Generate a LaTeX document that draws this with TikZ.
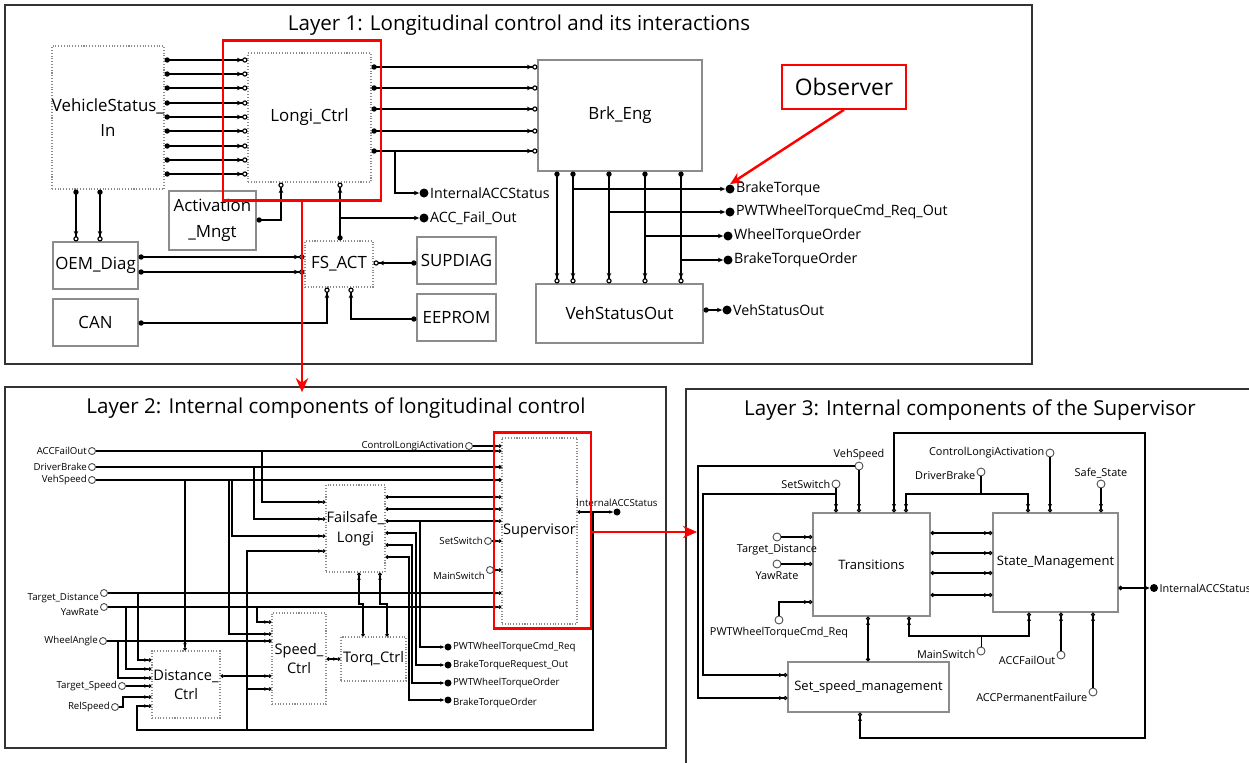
\documentclass[tikz,border=0pt]{standalone}
\usepackage{fontspec}
\setmainfont{Open Sans}
\usetikzlibrary{arrows.meta,calc}
\newlength\px
\setlength\px{0.02cm}
\tikzset{
  blk/.style 2 args={minimum width=#1\px, minimum height=#2\px, inner sep=0pt, align=center},
  solidblk/.style={draw=black!45, line width=0.6pt},
  dotblk/.style={draw=black!45, densely dotted, line width=0.6pt},
  frame/.style={draw=black!80, line width=0.9pt},
  redframe/.style={draw=red, line width=1.7pt},
  redarrow/.style={draw=red, line width=1.6pt, -{Stealth[length=8pt,width=7pt]}},
  ttl/.style={font=\fontsize{11.7}{14}\selectfont, inner sep=0pt},
  l1font/.style={font=\fontsize{9.6}{14.5}\selectfont},
  l2font/.style={font=\fontsize{8.3}{11}\selectfont},
  l3font/.style={font=\fontsize{7.4}{9}\selectfont},
  l1lbl/.style={font=\fontsize{8.1}{9}\selectfont, inner sep=0.5pt},
  l2lbl/.style={font=\fontsize{5.5}{6.5}\selectfont, inner sep=0.5pt},
  l3lbl/.style={font=\fontsize{6.2}{7.5}\selectfont, inner sep=0.5pt},
  outA/.style={circle, fill, inner sep=0pt, minimum size=9\px},
  outS/.style={circle, fill, inner sep=0pt, minimum size=7\px},
  outT/.style={circle, fill, inner sep=0pt, minimum size=8\px},
  inS/.style={circle, draw=black!70, fill=white, line width=0.5pt, inner sep=0pt, minimum size=7\px},
  inT/.style={circle, draw=black!70, fill=white, line width=0.5pt, inner sep=0pt, minimum size=8\px},
  % layer 1 connectors
  sigA/.style={line width=0.65pt, {Circle[length=3pt]}-{Stealth[length=3pt,width=2.6pt] Circle[open,length=3pt]}},
  sigAa/.style={line width=0.65pt, -{Stealth[length=3pt,width=2.6pt]}},
  sigAd/.style={line width=0.65pt, {Circle[length=3pt]}-{Stealth[length=3pt,width=2.6pt]}},
  % layer 2 connectors
  sigS/.style={line width=0.6pt, {Circle[length=2pt]}-{Stealth[length=2.2pt,width=2pt] Circle[open,length=2pt]}},
  sigSo/.style={line width=0.6pt, -{Stealth[length=2.2pt,width=2pt] Circle[open,length=2pt]}},
  sigSa/.style={line width=0.6pt, -{Stealth[length=2.2pt,width=2pt]}},
  sigSd/.style={line width=0.6pt, {Circle[length=2pt]}-{Stealth[length=2.2pt,width=2pt]}},
  % layer 3 connectors
  sigT/.style={line width=0.65pt, {Circle[length=2.4pt]}-{Stealth[length=2.6pt,width=2.3pt] Circle[open,length=2.3pt]}},
  sigTo/.style={line width=0.65pt, -{Stealth[length=2.6pt,width=2.3pt] Circle[open,length=2.3pt]}},
  sigTd/.style={line width=0.65pt, {Circle[length=2.4pt]}-{Stealth[length=2.6pt,width=2.3pt]}}
}
\begin{document}
\begin{tikzpicture}[x=0.02cm, y=-0.02cm]
\clip (0,0) rectangle (1249,762);
\fill[white] (0,0) rectangle (1249,762);

% ---------- Layer 1 ----------
\node[frame, blk={1027}{359}] (L1) at (518.5,184.5) {};
\node[ttl] (t1) at (519,25) {Layer 1: Longitudinal control and its interactions};

\node[dotblk, blk={110}{143}, l1font] (vsi) at (108,117.5) {VehicleStatus\_\\In};
\node[dotblk, blk={123}{129}, l1font] (lc) at (309.5,117.5) {Longi\_Ctrl};
\node[solidblk, blk={164}{111}, l1font] (brk) at (620,115.5) {Brk\_Eng};
\node[solidblk, blk={87}{59}, l1font] (act) at (212.5,220.5) {Activation\\\_Mngt};
\node[dotblk, blk={68}{46}, l1font] (fs) at (339,264) {FS\_ACT};
\node[solidblk, blk={85}{47}, l1font] (oem) at (95.5,265.5) {OEM\_Diag};
\node[solidblk, blk={85}{47}, l1font] (can) at (95.5,322.5) {CAN};
\node[solidblk, blk={79}{47}, l1font] (supd) at (456.5,260.5) {SUPDIAG};
\node[solidblk, blk={79}{47}, l1font] (eep) at (456.5,317.5) {EEPROM};
\node[solidblk, blk={167}{59}, l1font] (vso) at (619.5,313.5) {VehStatusOut};
\node[draw=red, line width=0.9pt, blk={124}{44}, font=\fontsize{13}{15}\selectfont] (obs) at (844,87) {Observer};

\node[outA, label={[l1lbl]right:InternalACCStatus}] (ias) at (424,193) {};
\node[outA, label={[l1lbl]right:ACC\_Fail\_Out}] (afo) at (424,218) {};
\node[outA, label={[l1lbl]right:BrakeTorque}] (bt) at (730,189) {};
\node[outA, label={[l1lbl]right:PWTWheelTorqueCmd\_Req\_Out}] (pwt) at (730,212) {};
\node[outA, label={[l1lbl]right:WheelTorqueOrder}] (wto) at (728,236) {};
\node[outA, label={[l1lbl]right:BrakeTorqueOrder}] (bto) at (728,260) {};
\node[outA, label={[l1lbl]right:VehStatusOut}] (vsout) at (727,310) {};

\foreach \y in {60,74,88,103,117,131,146,160,174}
  \draw[sigA] (vsi.east |- 0,\y) -- (lc.west |- 0,\y);
\foreach \y in {67,88,109,131,151}
  \draw[sigA] (lc.east |- 0,\y) -- (brk.west |- 0,\y);
\coordinate (j1) at (395,151);
\draw[sigAa] (j1) |- (ias);
\draw[sigA] (act.east |- 0,220) -| (lc.south -| 281,0);
\draw[sigA] (fs.north -| 340,0) -- (lc.south -| 340,0);
\coordinate (j2) at (340,218);
\draw[sigAa] (j2) -- (afo);
\foreach \x in {76,100}
  \draw[sigA] (vsi.south -| \x,0) -- (oem.north -| \x,0);
\foreach \y in {257,272}
  \draw[sigA] (oem.east |- 0,\y) -- (fs.west |- 0,\y);
\draw[sigA] (can.east |- 0,323) -| (fs.south -| 327,0);
\draw[sigA] (supd.west |- 0,263) -- (fs.east |- 0,263);
\draw[sigA] (eep.west |- 0,319) -| (fs.south -| 351,0);
\foreach \x in {557,573,609,645,681}
  \draw[sigA] (brk.south -| \x,0) -- (vso.north -| \x,0);
\draw[sigAa] (brk.south -| 573,0) |- (bt);
\draw[sigAa] (brk.south -| 609,0) |- (pwt);
\draw[sigAa] (brk.south -| 645,0) |- (wto);
\draw[sigAa] (brk.south -| 681,0) |- (bto);
\draw[sigAd] (vso.east |- vsout) -- (vsout);
\draw[red, line width=1.4pt, -{Stealth[length=7pt,width=6pt]}] (obs.south) -- (bt.north);
\node[redframe, blk={158}{160}] (rb1) at (302,120) {};

% ---------- Layer 2 ----------
\node[frame, blk={661}{361}] (L2) at (335.5,567.5) {};
\node[ttl] (t2) at (336,408) {Layer 2: Internal components of longitudinal control};
\draw[redarrow, shorten >=-6\px] (rb1.south) -- (rb1.south |- L2.north);

\node[dotblk, blk={75}{186}, l2font] (sv) at (539.5,531) {Supervisor};
\node[dotblk, blk={59}{87}, l2font] (fsl) at (355.5,528.5) {Failsafe\_\\Longi};
\node[dotblk, blk={54}{91}, l2font] (spd) at (299,658.5) {Speed\_\\Ctrl};
\node[dotblk, blk={65}{44}, l2font] (trq) at (373.5,659) {Torq\_Ctrl};
\node[dotblk, blk={68}{67}, l2font] (dst) at (186,684.5) {Distance\_\\Ctrl};

\node[inS, label={[l2lbl]left:ACCFailOut}] (i_afo) at (92,451) {};
\node[inS, label={[l2lbl]left:DriverBrake}] (i_db) at (92,467) {};
\node[inS, label={[l2lbl]left:VehSpeed}] (i_vs) at (92,480) {};
\node[inS, label={[l2lbl, yshift=-5\px]left:Target\_Distance}] (i_td) at (104,593) {};
\node[inS, label={[l2lbl, yshift=-5\px]left:YawRate}] (i_yr) at (104,607) {};
\node[inS, label={[l2lbl]left:WheelAngle}] (i_wa) at (103,641) {};
\node[inS, label={[l2lbl]left:Target\_Speed}] (i_ts) at (122,686) {};
\node[inS, label={[l2lbl]left:RelSpeed}] (i_rs) at (115,707) {};
\node[inS, label={[l2lbl]left:ControlLongiActivation}] (i_cla) at (469,446) {};
\node[inS, label={[l2lbl]left:SetSwitch}] (i_ss) at (488,541) {};
\node[inS, label={[l2lbl, yshift=-6\px]left:MainSwitch}] (i_ms) at (490,570) {};

\node[outS, label={[l2lbl]above:InternalACCStatus}] (o_ias) at (617,512) {};
\node[outS, label={[l2lbl]right:PWTWheelTorqueCmd\_Req}] (o_pwtc) at (448,647) {};
\node[outS, label={[l2lbl]right:BrakeTorqueRequest\_Out}] (o_btr) at (448,665) {};
\node[outS, label={[l2lbl]right:PWTWheelTorqueOrder}] (o_pwto) at (448,683) {};
\node[outS, label={[l2lbl, yshift=-3\px]right:BrakeTorqueOrder}] (o_bto) at (448,700) {};

\draw[sigSo] (i_cla) -- (sv.west |- i_cla);
\draw[sigSo] (i_afo) -- (sv.west |- i_afo);
\draw[sigSo, line width=0.9pt] (i_db) -- (sv.west |- i_db);
\draw[sigSo, line width=0.9pt] (i_vs) -- (sv.west |- i_vs);
\draw[sigSo] (i_afo -| 262,0) |- (fsl.west |- 0,502);
\draw[sigSo] (i_db -| 254,0) |- (fsl.west |- 0,519);
\draw[sigSo] (i_vs -| 185,0) -- (dst.north -| 185,0);
\draw[sigSo] (i_vs -| 232,0) |- (fsl.west |- 0,536);
\draw[sigSo] (i_vs -| 229,0) |- (spd.west |- 0,634);
\foreach \y in {497,509,521}
  \draw[sigS] (fsl.east |- 0,\y) -- (sv.west |- 0,\y);
\draw[sigSa] (fsl.east |- 0,521) -| (o_pwtc -| 420,0) -- (o_pwtc);
\draw[sigSd] (fsl.east |- 0,533) -| (o_btr -| 416,0) -- (o_btr);
\draw[sigSd] (fsl.east |- 0,545) -| (o_pwto -| 412,0) -- (o_pwto);
\draw[sigSd] (fsl.east |- 0,557) -| (o_bto -| 409,0) -- (o_bto);
\draw[sigSd] (sv.east |- o_ias) -- (o_ias);
\coordinate (fbtop) at (o_ias -| 593,0);
\coordinate (fbj) at (247,730);
\draw[sigSo] (fbtop) |- (137,730) |- (dst.west |- 0,706);
\draw[sigSo] (fbj) |- (fsl.west |- 0,551);
\draw[sigSo] (fbj) |- (spd.west |- 0,689);
\draw[sigSo] (i_td) -- (sv.west |- i_td);
\draw[sigSo] (i_td -| 138,0) |- (dst.west |- 0,660);
\draw[sigSo] (i_yr) -- (sv.west |- i_yr);
\draw[sigSo] (i_yr -| 126,0) |- (dst.west |- 0,669);
\draw[sigSo] (i_yr -| 257,0) |- (spd.west |- 0,622);
\draw[sigSo, line width=0.9pt] (i_wa) -- (spd.west |- i_wa);
\draw[sigSo] (i_wa -| 118,0) |- (dst.west |- 0,678);
\draw[sigSo] (i_ts) -- (dst.west |- i_ts);
\draw[sigSo] (i_rs) -| (123,697) -- (dst.west |- 0,697);
\draw[sigSo] (i_ss) -- (sv.west |- i_ss);
\draw[sigSo] (i_ms) -- (sv.west |- i_ms);
\draw[sigS] (trq.north -| 363,0) |- (359,604) -- (fsl.south -| 359,0);
\draw[sigS] (trq.north -| 387,0) |- (380,604) -- (fsl.south -| 380,0);
\draw[sigS] (spd.east |- 0,659) -- (trq.west |- 0,659);
\draw[sigS] (dst.east |- 0,676) -- (spd.west |- 0,676);
\node[redframe, blk={97}{196}] (rb2) at (542.5,530) {};

% ---------- Layer 3 ----------
\node[frame, blk={576}{386}] (L3) at (974,582) {};
\node[ttl] (t3) at (970,410) {Layer 3: Internal components of the Supervisor};
\coordinate (l3in) at (697,532);
\draw[redarrow] (rb2.east |- l3in) -- (l3in);

\node[solidblk, blk={117}{103}, l3font] (tr) at (871.5,564.5) {Transitions};
\node[solidblk, blk={125}{99}, l3font] (sm) at (1055.5,562.5) {State\_Management};
\node[solidblk, blk={161}{50}, l3font] (ssm) at (868.5,687) {Set\_speed\_management};

\node[inT, label={[l3lbl]above:VehSpeed}] (j_vs) at (859,466) {};
\node[inT, label={[l3lbl]left:SetSwitch}] (j_ss) at (836,484) {};
\node[inT, label={[l3lbl, yshift=-3\px]left:DriverBrake}] (j_db) at (981,472) {};
\node[inT, label={[l3lbl]left:ControlLongiActivation}] (j_cla) at (1050,453) {};
\node[inT, label={[l3lbl]above:Safe\_State}] (j_safe) at (1101,484) {};
\node[inT, label={[l3lbl, yshift=-2\px]below:Target\_Distance}] (j_td) at (777,537) {};
\node[inT, label={[l3lbl, yshift=-2\px]below:YawRate}] (j_yr) at (777,564) {};
\node[inT, label={[l3lbl, yshift=-2\px]below:PWTWheelTorqueCmd\_Req}] (j_pwt) at (779,620) {};
\node[inT, label={[l3lbl, yshift=-3\px]left:MainSwitch}] (j_ms) at (981,651) {};
\node[inT, label={[l3lbl, yshift=-5\px]left:ACCFailOut}] (j_afo) at (1061,655) {};
\node[inT, label={[l3lbl, yshift=-5\px]left:ACCPermanentFailure}] (j_apf) at (1093,692) {};
\node[outT, label={[l3lbl]right:InternalACCStatus}] (k_ias) at (1154,588) {};

\draw[sigTo] (j_ss) -- (tr.north -| j_ss);
\coordinate (ssj) at (j_ss |- 0,494);
\draw[sigTo] (ssj) -| (703,675) -- (ssm.west |- 0,675);
\draw[sigTo] (j_vs) -- (tr.north -| j_vs);
\draw[sigTo] (j_vs.west) -| (698,698) -- (ssm.west |- 0,698);
\draw[sigTo] (k_ias -| 1145,0) |- (894,433) -- (tr.north -| 894,0);
\draw[sigTo] (k_ias -| 1145,0) |- (860,738) -- (ssm.south -| 860,0);
\draw[sigTd, line width=1.1pt] (sm.east |- k_ias) -- (k_ias);
\coordinate (dbj) at (j_db |- 0,494);
\draw[line width=0.9pt] (j_db) -- (dbj);
\draw[sigTo] (dbj) -| (tr.north -| 906,0);
\draw[sigTo] (dbj) -| (sm.north -| 1028,0);
\draw[sigTo] (j_cla) -- (sm.north -| j_cla);
\draw[sigTo] (j_safe) -- (sm.north -| j_safe);
\foreach \y in {533,553,573,595}
  \draw[sigT] (tr.east |- 0,\y) -- (sm.west |- 0,\y);
\draw[sigTo] (j_td) -- (tr.west |- j_td);
\draw[sigTo] (j_yr) -- (tr.west |- j_yr);
\draw[sigTo] (j_pwt) |- (tr.west |- 0,602);
\draw[sigT] (ssm.north -| 868,0) -- (tr.south -| 868,0);
\coordinate (msj) at (j_ms |- 0,636);
\draw (j_ms) -- (msj);
\draw[sigTo] (msj) -| (tr.south -| 909,0);
\draw[sigTo] (msj) -| (sm.south -| 1029,0);
\draw[sigTo] (j_afo) -- (sm.south -| j_afo);
\draw[sigTo] (j_apf) -- (sm.south -| j_apf);
\end{tikzpicture}
\end{document}
